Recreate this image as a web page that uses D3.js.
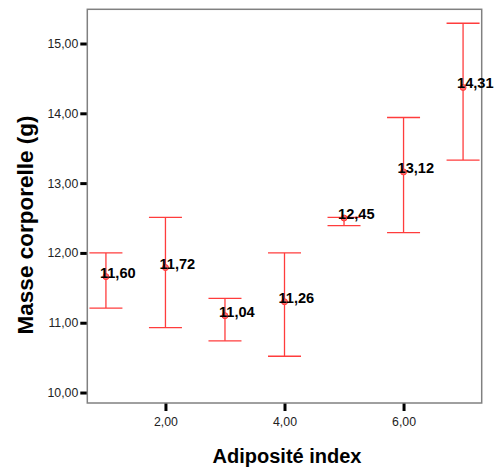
<!DOCTYPE html>
<html><head><meta charset="utf-8">
<script src="https://cdn.jsdelivr.net/npm/d3@7"></script>
<style>body{margin:0;background:#fff}svg{display:block}</style>
</head><body><svg id="c" width="500" height="469"></svg>
<script>
const categories = [1, 2, 3, 4, 5, 6, 7];
const pointValues = [11.66, 11.79, 11.10, 11.30, 12.50, 13.16, 14.37];
const labelTexts = ["11,60", "11,72", "11,04", "11,26", "12,45", "13,12", "14,31"];
const upperValues = [12.00, 12.51, 11.35, 12.00, 12.51, 13.94, 15.29];
const lowerValues = [11.21, 10.93, 10.74, 10.52, 12.39, 12.29, 13.33];
const xTicks = [2, 4, 6];
const xTickLabels = ["2,00", "4,00", "6,00"];
const yTicks = [10, 11, 12, 13, 14, 15];
const yTickLabels = ["10,00", "11,00", "12,00", "13,00", "14,00", "15,00"];

const svg = d3.select("#c");
const L = 87.3, R = 481.7, T = 9.3, B = 403;
const x = d3.scaleLinear().domain([0.687, 7.313]).range([L, R]);
const y = d3.scaleLinear().domain([9.85, 15.49]).range([B, T]);
const red = "#ff3c3c";
const font = "Liberation Sans, Arial, sans-serif";

// y axis
const yAxis = d3.axisLeft(y).tickValues(yTicks).tickSize(7).tickPadding(2)
  .tickFormat((d, i) => yTickLabels[i]);
const gy = svg.append("g").attr("transform", `translate(${L},0)`).call(yAxis);
gy.select(".domain").remove();
gy.selectAll(".tick line").attr("stroke", "#000").attr("stroke-width", 3);
gy.selectAll(".tick text").attr("font-family", font)
  .attr("font-size", 12.3).attr("fill", "#222");

// x axis
const xAxis = d3.axisBottom(x).tickValues(xTicks).tickSize(8).tickPadding(6)
  .tickFormat((d, i) => xTickLabels[i]);
const gx = svg.append("g").attr("transform", `translate(0,${B})`).call(xAxis);
gx.select(".domain").remove();
gx.selectAll(".tick line").attr("stroke", "#000").attr("stroke-width", 3);
gx.selectAll(".tick text").attr("font-family", font)
  .attr("font-size", 12.3).attr("fill", "#222");

// frame
svg.append("rect").attr("x", L).attr("y", T).attr("width", R - L).attr("height", B - T)
  .attr("fill", "none").attr("stroke", "#808080").attr("stroke-width", 1.5);

const data = categories.map((c, i) => ({c, v: pointValues[i], lab: labelTexts[i], hi: upperValues[i], lo: lowerValues[i]}));
const capW = 16.5;
const g = svg.append("g");
const eb = g.selectAll("g.eb").data(data).enter().append("g");
eb.append("line").attr("x1", d => x(d.c)).attr("x2", d => x(d.c))
  .attr("y1", d => y(d.hi)).attr("y2", d => y(d.lo)).attr("stroke", red).attr("stroke-width", 1.3);
eb.append("line").attr("x1", d => x(d.c) - capW).attr("x2", d => Math.min(x(d.c) + capW, R - 1))
  .attr("y1", d => y(d.hi)).attr("y2", d => y(d.hi)).attr("stroke", red).attr("stroke-width", 1.3);
eb.append("line").attr("x1", d => x(d.c) - capW).attr("x2", d => Math.min(x(d.c) + capW, R - 1))
  .attr("y1", d => y(d.lo)).attr("y2", d => y(d.lo)).attr("stroke", red).attr("stroke-width", 1.3);
eb.append("circle").attr("cx", d => x(d.c)).attr("cy", d => y(d.v)).attr("r", 3)
  .attr("fill", "#ff6a6a").attr("stroke", red).attr("stroke-width", 1);
eb.append("text").attr("x", d => x(d.c) - 6).attr("y", d => y(d.v) + 1)
  .attr("font-family", font).attr("font-weight", "bold")
  .attr("font-size", 14.6).attr("fill", "#000").text(d => d.lab);

// axis titles
svg.append("text").attr("x", 287).attr("y", 463).attr("text-anchor", "middle")
  .attr("font-family", font).attr("font-weight", "bold")
  .attr("font-size", 20).attr("fill", "#000").text("Adiposité index");
svg.append("text").attr("transform", "translate(33,225) rotate(-90)").attr("text-anchor", "middle")
  .attr("font-family", font).attr("font-weight", "bold")
  .attr("font-size", 22.5).attr("fill", "#000").text("Masse corporelle (g)");
</script></body></html>
